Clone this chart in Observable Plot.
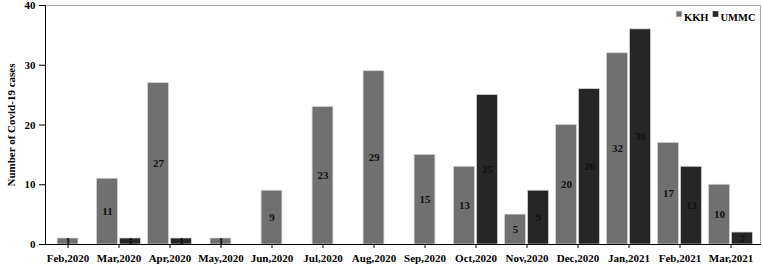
<!DOCTYPE html>
<html>
<head>
<meta charset="utf-8">
<script src="https://cdn.jsdelivr.net/npm/d3@7"></script>
<script src="https://cdn.jsdelivr.net/npm/@observablehq/plot@0.6"></script>
<style>
  body { margin: 0; background: #fff; }
  #chart svg { display: block; }
</style>
</head>
<body>
<div id="chart"></div>
<script>
const months = ["Feb,2020","Mar,2020","Apr,2020","May,2020","Jun,2020","Jul,2020","Aug,2020","Sep,2020","Oct,2020","Nov,2020","Dec,2020","Jan,2021","Feb,2021","Mar,2021"];
const kkh  = [1, 11, 27, 1, 9, 23, 29, 15, 13, 5, 20, 32, 17, 10];
const ummc = [null, 1, 1, null, null, null, null, null, 25, 9, 26, 36, 13, 2];
const seriesNames = ["KKH", "UMMC"];
const colors = {KKH: "#707070", UMMC: "#262626"};
const yTicks = [0, 10, 20, 30, 40];

// build rows; role = single / left / right depending on whether month has both series
const rows = [];
months.forEach((m, i) => {
  const both = kkh[i] != null && ummc[i] != null;
  if (kkh[i] != null) rows.push({month: m, series: "KKH", value: kkh[i], role: both ? "left" : "single"});
  if (ummc[i] != null) rows.push({month: m, series: "UMMC", value: ummc[i], role: both ? "right" : "single"});
});
const byRole = r => rows.filter(d => d.role === r);

const font = "'Liberation Serif', 'Times New Roman', serif";
const barStyle = {x: "month", y: "value", fill: d => colors[d.series], stroke: "#d0d0d0", strokeWidth: 0.7};
const textStyle = {x: "month", y: d => d.value / 2, text: d => String(d.value), fontWeight: "bold", fontSize: 11, fill: "#111"};

const chart = Plot.plot({
  width: 763,
  height: 267,
  marginLeft: 45,
  marginRight: 3,
  marginTop: 5,
  marginBottom: 23,
  style: {fontFamily: font, fontSize: "11px", fontWeight: "bold", color: "#000", background: "#fff"},
  x: {type: "band", domain: months, range: [40.1, 757.3], padding: 0},
  y: {domain: [0, 40], range: [244, 5]},
  marks: [
    Plot.frame({anchor: "top", stroke: "#a6a6a6"}),
    Plot.frame({anchor: "right", stroke: "#a6a6a6"}),
    Plot.barY(byRole("single"), {...barStyle, insetLeft: 15.1, insetRight: 15.1}),
    Plot.barY(byRole("left"), {...barStyle, insetLeft: 3.6, insetRight: 26.6}),
    Plot.barY(byRole("right"), {...barStyle, insetLeft: 26.6, insetRight: 3.6}),
    Plot.text(byRole("single"), {...textStyle}),
    Plot.text(byRole("left"), {...textStyle, dx: -11.5}),
    Plot.text(byRole("right"), {...textStyle, dx: 11.5}),
    Plot.axisY({ticks: yTicks, tickSize: 6, tickPadding: 4, fontWeight: "bold", fontSize: 11,
      label: "Number of Covid-19 cases", labelAnchor: "center", labelArrow: "none", labelOffset: 38}),
    Plot.axisX({tickSize: 4, tickPadding: 6, fontWeight: "bold", fontSize: 11, label: null}),
    Plot.frame({anchor: "left", stroke: "#000"}),
    Plot.frame({anchor: "bottom", stroke: "#000"}),
    // legend
    Plot.dot([seriesNames[0]], {frameAnchor: "top-right", dx: -81.5, dy: 8.5, symbol: "square", r: 3.2, fill: colors.KKH, stroke: "#d0d0d0", strokeWidth: 0.5}),
    Plot.text([seriesNames[0]], {frameAnchor: "top-right", text: d => d, dx: -76.5, dy: 8.5, textAnchor: "start", fontWeight: "bold", fontSize: 10.5, fill: "#000"}),
    Plot.dot([seriesNames[1]], {frameAnchor: "top-right", dx: -45, dy: 8.5, symbol: "square", r: 3.2, fill: colors.UMMC}),
    Plot.text([seriesNames[1]], {frameAnchor: "top-right", text: d => d, dx: -40, dy: 8.5, textAnchor: "start", fontWeight: "bold", fontSize: 10.5, fill: "#000"})
  ]
});
document.getElementById("chart").appendChild(chart);
</script>
</body>
</html>
